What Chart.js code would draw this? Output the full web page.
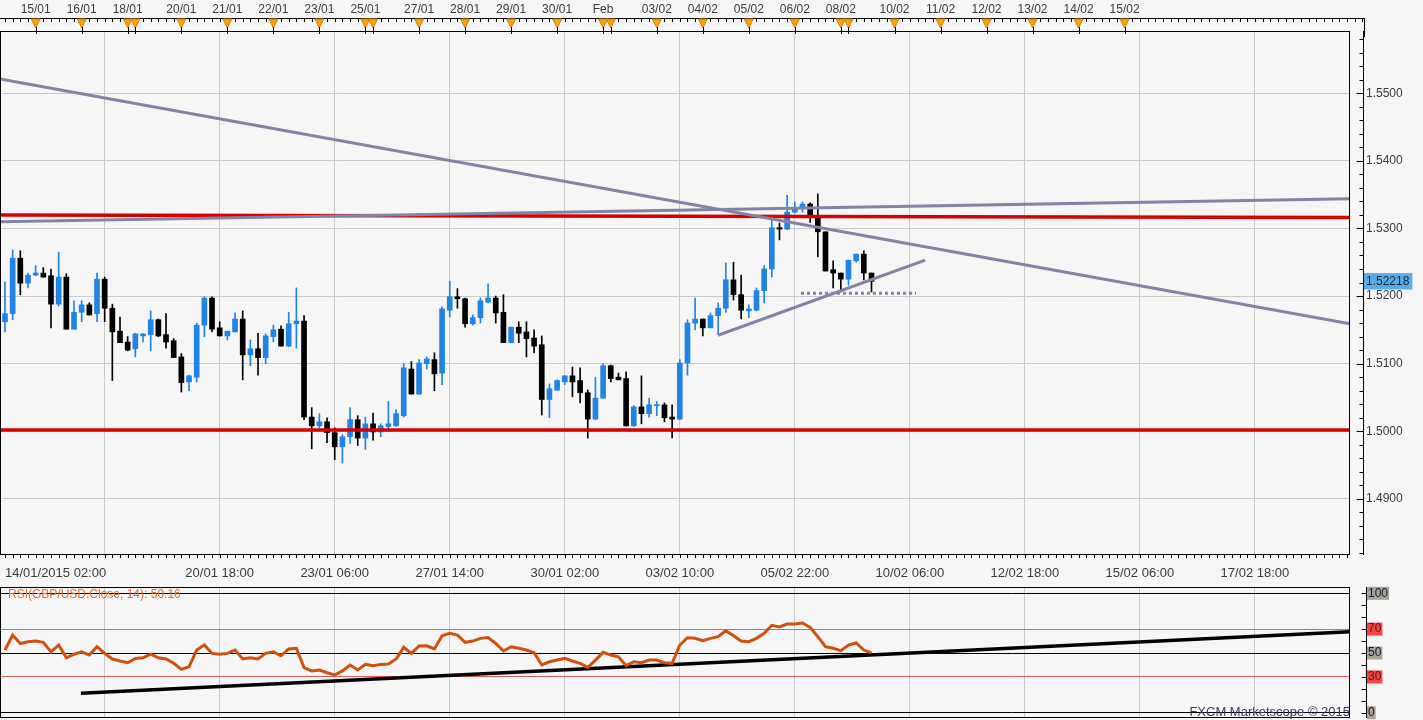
<!DOCTYPE html>
<html>
<head>
<meta charset="utf-8">
<title>GBP/USD H4</title>
<script src="https://cdn.jsdelivr.net/npm/chart.js@4.4.0/dist/chart.umd.min.js"></script>
<style>
    html, body { margin: 0; padding: 0; background: #f6f6f6; }
    #wrap { position: relative; width: 1423px; height: 720px; overflow: hidden; }
    #priceChart { position: absolute; left: 0; top: 0; }
    #rsiChart { position: absolute; left: 0; top: 585px; }
</style>
</head>
<body>
<div id="wrap">
    <canvas id="priceChart" width="1423" height="585"></canvas>
    <canvas id="rsiChart" width="1423" height="135"></canvas>
</div>
<script>
// GBP/USD 4h candles from 14/01/2015 02:00 (x = candle number)
const opens = [1.5162,1.5174,1.5256,1.5219,1.5231,1.5234,1.5230,1.5188,1.5228,1.5151,
    1.5176,1.5187,1.5174,1.5225,1.5182,1.5148,1.5132,1.5122,1.5141,1.5143,
    1.5165,1.5143,1.5134,1.5110,1.5073,1.5080,1.5157,1.5197,1.5153,1.5141,
    1.5147,1.5166,1.5113,1.5122,1.5109,1.5140,1.5151,1.5126,1.5159,1.5163,
    1.5021,1.5008,1.5014,1.4998,1.4977,1.4992,1.5017,1.4990,1.5011,1.4999,
    1.5007,1.5008,1.5023,1.5092,1.5055,1.5100,1.5106,1.5086,1.5179,1.5199,
    1.5196,1.5159,1.5168,1.5191,1.5197,1.5176,1.5131,1.5154,1.5147,1.5138,
    1.5128,1.5047,1.5061,1.5073,1.5082,1.5075,1.5057,1.5018,1.5049,1.5097,
    1.5080,1.5078,1.5008,1.5036,1.5026,1.5038,1.5039,1.5021,1.5018,1.5101,
    1.5160,1.5166,1.5153,1.5171,1.5182,1.5224,1.5202,1.5178,1.5179,1.5208,
    1.5240,1.5301,1.5299,1.5324,1.5329,1.5336,1.5315,1.5295,1.5239,1.5234,
    1.5225,1.5252,1.5262,1.5234];
const highs = [1.5221,1.5268,1.5267,1.5234,1.5245,1.5242,1.5240,1.5265,1.5233,1.5193,
    1.5193,1.5190,1.5234,1.5228,1.5188,1.5169,1.5140,1.5145,1.5144,1.5178,
    1.5166,1.5174,1.5137,1.5115,1.5083,1.5160,1.5199,1.5199,1.5162,1.5148,
    1.5175,1.5178,1.5135,1.5145,1.5144,1.5157,1.5156,1.5176,1.5212,1.5171,
    1.5035,1.5026,1.5020,1.5005,1.4995,1.5035,1.5023,1.5021,1.5027,1.5011,
    1.5044,1.5032,1.5100,1.5103,1.5106,1.5110,1.5116,1.5184,1.5222,1.5211,
    1.5197,1.5172,1.5197,1.5218,1.5200,1.5202,1.5154,1.5162,1.5162,1.5150,
    1.5141,1.5070,1.5076,1.5082,1.5095,1.5094,1.5061,1.5080,1.5100,1.5098,
    1.5086,1.5088,1.5038,1.5082,1.5049,1.5044,1.5042,1.5039,1.5106,1.5165,
    1.5197,1.5166,1.5175,1.5190,1.5249,1.5250,1.5231,1.5187,1.5212,1.5245,
    1.5315,1.5308,1.5349,1.5339,1.5339,1.5338,1.5351,1.5295,1.5252,1.5234,
    1.5253,1.5262,1.5267,1.5234];
const lows = [1.5147,1.5165,1.5202,1.5212,1.5230,1.5228,1.5153,1.5185,1.5151,1.5151,
    1.5162,1.5172,1.5162,1.5162,1.5075,1.5131,1.5119,1.5110,1.5132,1.5119,
    1.5140,1.5123,1.5109,1.5058,1.5060,1.5073,1.5140,1.5147,1.5141,1.5135,
    1.5147,1.5076,1.5097,1.5083,1.5100,1.5132,1.5126,1.5125,1.5123,1.5017,
    1.4974,1.5005,1.4983,1.4958,1.4953,1.4982,1.4979,1.4973,1.4987,1.4992,
    1.5002,1.5007,1.5021,1.5055,1.5055,1.5092,1.5060,1.5069,1.5169,1.5182,
    1.5154,1.5157,1.5160,1.5190,1.5160,1.5131,1.5131,1.5131,1.5110,1.5116,
    1.5024,1.5020,1.5060,1.5069,1.5051,1.5042,1.4990,1.5017,1.5049,1.5073,
    1.5076,1.5008,1.5007,1.5011,1.5021,1.5023,1.5014,1.4990,1.5017,1.5083,
    1.5150,1.5141,1.5153,1.5143,1.5176,1.5194,1.5166,1.5168,1.5178,1.5190,
    1.5228,1.5283,1.5298,1.5323,1.5324,1.5309,1.5258,1.5237,1.5212,1.5206,
    1.5216,1.5250,1.5224,1.5206];
const closes = [1.5174,1.5256,1.5219,1.5231,1.5234,1.5228,1.5188,1.5228,1.5151,1.5176,
    1.5187,1.5172,1.5225,1.5182,1.5147,1.5131,1.5120,1.5144,1.5144,1.5165,
    1.5141,1.5132,1.5109,1.5072,1.5082,1.5157,1.5197,1.5151,1.5141,1.5148,
    1.5166,1.5113,1.5122,1.5109,1.5141,1.5150,1.5126,1.5159,1.5163,1.5021,
    1.5008,1.5014,1.4998,1.4977,1.4992,1.5017,1.4990,1.5011,1.4999,1.5008,
    1.5011,1.5026,1.5094,1.5055,1.5101,1.5107,1.5085,1.5181,1.5199,1.5196,
    1.5159,1.5168,1.5193,1.5197,1.5175,1.5131,1.5154,1.5145,1.5137,1.5126,
    1.5047,1.5063,1.5075,1.5082,1.5073,1.5057,1.5018,1.5049,1.5097,1.5078,
    1.5076,1.5008,1.5036,1.5026,1.5039,1.5039,1.5020,1.5018,1.5101,1.5160,
    1.5166,1.5153,1.5171,1.5182,1.5224,1.5202,1.5179,1.5181,1.5208,1.5240,
    1.5301,1.5299,1.5324,1.5329,1.5336,1.5318,1.5295,1.5237,1.5234,1.5225,
    1.5253,1.5262,1.5234,1.52218];
const rsiValues = [52.5,65,58,59.5,60,59,51,56.7,46,49,
    51,48.3,55.3,49.7,45,43.3,41.9,45.5,46,49,
    46,45,41.4,36.3,38.5,52.5,56.7,49.7,49,49.7,
    52.5,45,46,45,49.7,51,47.7,53.4,54,37.7,
    35,35.8,33.5,31.6,35,40,35.8,40.5,39.4,40.5,
    40.8,45,54.8,49.7,55.9,56.1,53.4,64.5,66.5,65,
    59,60,62.3,63,58,51.7,55.3,54,52.5,50.3,
    40,42.7,44.1,45.5,43.3,41.4,38,44.1,50.6,48.3,
    46.9,39.4,42.7,41.9,44.1,44.1,41.9,41.4,56.7,62.8,
    62.3,60.3,62.3,63.7,68.7,64.5,60,59.5,62.3,66.5,
    73.2,71.8,74.3,74.3,75.1,71.5,63.7,55.3,54,52,
    56.7,58.4,52.5,50.16];
const lastPrice = 1.52218;

// axis ticks
const priceTicks = [1.49, 1.50, 1.51, 1.52, 1.53, 1.54, 1.55];
const rsiTicks = [0, 30, 50, 70, 100];
const timeTicks = [0, 13, 28, 43, 58, 73, 88, 103, 118, 133, 148, 163, 175.4];
const timeLabels = ['14/01/2015 02:00', '', '20/01 18:00', '23/01 06:00', '27/01 14:00', '30/01 02:00',
    '03/02 10:00', '05/02 22:00', '10/02 06:00', '12/02 18:00', '15/02 06:00', '17/02 18:00', ''];
const dayTicks = [4, 10, 16, 17, 23, 29, 35, 41, 47, 48, 54, 60, 66, 72, 78, 79, 85, 91, 97, 103, 109, 110,
    116, 122, 128, 134, 140, 146];
const dayLabels = ['15/01', '16/01', '18/01', '', '20/01', '21/01', '22/01', '23/01', '25/01', '', '27/01', '28/01',
    '29/01', '30/01', 'Feb', '', '03/02', '04/02', '05/02', '06/02', '08/02', '', '10/02', '11/02', '12/02',
    '13/02', '14/02', '15/02'];

// hand drawn lines [candle, value]
const downTrend = [[-0.65, 1.5521], [175.4, 1.5159]];
const channelLine = [[-0.65, 1.5310], [175.4, 1.5344]];
const resistance = [[-0.65, 1.5320], [175.4, 1.5316]];
const support = [[-0.65, 1.5002], [175.4, 1.5002]];
const risingTrend = [[93, 1.5142], [120, 1.5253]];
const dottedLevel = [[103.8, 1.5204], [118.8, 1.5204]];
const rsiTrend = [[9.9, 16.3], [175.4, 67.8]];

const xMin = -0.65;
const xMax = 175.4;
const font = "'Liberation Sans', Arial, sans-serif";
const upColor = '#2084e4';
const downColor = '#000000';
const lineGray = '#8583a3';
const lineRed = '#d70000';
const gridGray = '#c9c9c9';
const clear = 'rgba(0,0,0,0)';

Chart.defaults.font.family = font;
Chart.defaults.font.size = 12;
Chart.defaults.color = '#333';

const candleColors = closes.map((c, i) => c > opens[i] ? upColor : downColor);
const toPoints = pts => pts.map(p => ({ x: p[0], y: p[1] }));

const drawnLine = (pts, color, width, dash) => ({
    type: 'line',
    xAxisID: 'x',
    yAxisID: 'y',
    data: toPoints(pts),
    borderColor: color,
    borderWidth: width,
    borderDash: dash || [],
    pointRadius: 0,
    tension: 0,
    fill: false,
    order: 0
});

const priceFrame = {
    id: 'priceFrame',
    afterDraw(chart) {
        const { ctx, chartArea: a } = chart;
        const xs = chart.scales.x;
        const ys = chart.scales.y;
        ctx.save();
        ctx.strokeStyle = '#000';
        ctx.lineWidth = 1;
        ctx.strokeRect(a.left + 0.5, a.top + 0.5, a.width - 1, a.height - 1);

        // rulers: top (per candle), bottom, right (per 20 pips)
        const rulerEnd = a.right + 14;
        ctx.beginPath();
        ctx.moveTo(0, 18.5);
        ctx.lineTo(rulerEnd, 18.5);
        ctx.moveTo(rulerEnd + 0.5, 18);
        ctx.lineTo(rulerEnd + 0.5, 37);
        for (let i = 0; ; i++) {
            const px = Math.round(xs.getPixelForValue(i)) + 0.5;
            if (px > rulerEnd) break;
            ctx.moveTo(px, 18);
            ctx.lineTo(px, 22);
            if (px < a.right) {
                ctx.moveTo(px, a.bottom);
                ctx.lineTo(px, a.bottom + 3);
            }
        }
        const rx = a.right + 13.5;
        ctx.moveTo(rx, a.top);
        ctx.lineTo(rx, a.bottom);
        for (let k = Math.ceil(ys.min / 0.002); k * 0.002 <= ys.max; k++) {
            const py = Math.round(ys.getPixelForValue(k * 0.002)) + 0.5;
            ctx.moveTo(rx - (k % 5 === 0 ? 7 : 4), py);
            ctx.lineTo(rx, py);
        }
        ctx.stroke();

        // day markers
        dayTicks.forEach(d => {
            const px = xs.getPixelForValue(d);
            ctx.fillStyle = '#f2a21c';
            ctx.strokeStyle = '#d98400';
            ctx.beginPath();
            ctx.moveTo(px - 4.5, 19);
            ctx.lineTo(px + 4.5, 19);
            ctx.lineTo(px, 28);
            ctx.closePath();
            ctx.fill();
            ctx.stroke();
            ctx.strokeStyle = '#000';
            ctx.beginPath();
            ctx.moveTo(Math.round(px) + 0.5, 27);
            ctx.lineTo(Math.round(px) + 0.5, a.top + 3);
            ctx.stroke();
        });
        ctx.restore();
    }
};

new Chart(document.getElementById('priceChart'), {
    type: 'line',
    data: {
        datasets: [
            drawnLine(downTrend, lineGray, 3),
            drawnLine(channelLine, lineGray, 3),
            drawnLine(resistance, lineRed, 3.5),
            drawnLine(support, lineRed, 3.5),
            drawnLine(risingTrend, lineGray, 3),
            drawnLine(dottedLevel, lineGray, 3, [3, 3]),
            {
                type: 'bar',
                xAxisID: 'x',
                yAxisID: 'y',
                data: opens.map((o, i) => ({ x: i, y: [o, closes[i]] })),
                backgroundColor: candleColors,
                barThickness: 5,
                minBarLength: 1,
                grouped: false,
                borderWidth: 0,
                order: 1
            },
            {
                type: 'bar',
                xAxisID: 'x',
                yAxisID: 'y',
                data: lows.map((l, i) => ({ x: i, y: [l, highs[i]] })),
                backgroundColor: candleColors,
                barThickness: 1,
                grouped: false,
                borderWidth: 0,
                order: 2
            }
        ]
    },
    options: {
        responsive: false,
        animation: false,
        devicePixelRatio: 1,
        layout: { padding: 0 },
        plugins: { legend: { display: false }, tooltip: { enabled: false } },
        scales: {
            x: {
                type: 'linear',
                position: 'bottom',
                min: xMin,
                max: xMax,
                offset: false,
                afterFit: s => { s.height = 30; },
                afterBuildTicks: s => { s.ticks = timeTicks.map(v => ({ value: v })); },
                grid: {
                    offset: false,
                    drawTicks: true,
                    tickLength: 11,
                    tickColor: clear,
                    color: c => (c.tick && (c.tick.value === 0 || c.tick.value === xMax)) ? clear : gridGray
                },
                border: { display: false },
                ticks: {
                    autoSkip: false,
                    maxRotation: 0,
                    align: 'inner',
                    padding: 0,
                    font: { size: 13 },
                    color: '#3a3a3a',
                    callback: (v, i) => timeLabels[i]
                }
            },
            xTop: {
                type: 'linear',
                position: 'top',
                min: xMin,
                max: xMax,
                offset: false,
                afterFit: s => { s.height = 31; },
                afterBuildTicks: s => { s.ticks = dayTicks.map(v => ({ value: v })); },
                grid: { display: false, drawOnChartArea: false, drawTicks: false, offset: false },
                border: { display: false },
                ticks: {
                    autoSkip: false,
                    maxRotation: 0,
                    padding: 14,
                    color: '#3a3a3a',
                    callback: (v, i) => dayLabels[i]
                }
            },
            y: {
                position: 'right',
                min: 1.4817,
                max: 1.5592,
                afterFit: s => { s.width = 73; },
                afterBuildTicks: s => {
                    s.ticks = priceTicks.concat([lastPrice]).sort((p, q) => p - q).map(v => ({ value: v }));
                },
                grid: {
                    drawTicks: true,
                    tickLength: 16,
                    tickColor: clear,
                    color: c => (c.tick && c.tick.value === lastPrice) ? clear : gridGray
                },
                border: { display: false },
                ticks: {
                    autoSkip: false,
                    padding: 0,
                    color: c => c.tick.value === lastPrice ? '#10253a' : '#3a3a3a',
                    showLabelBackdrop: true,
                    backdropColor: c => c.tick.value === lastPrice ? '#5aace8' : clear,
                    backdropPadding: { left: 2, right: 3, top: 1, bottom: 1 },
                    callback: v => v === lastPrice ? v.toFixed(5) : v.toFixed(4)
                }
            }
        }
    },
    plugins: [priceFrame]
});

const rsiFrame = {
    id: 'rsiFrame',
    afterDraw(chart) {
        const { ctx, chartArea: a } = chart;
        const ys = chart.scales.y;
        ctx.save();
        ctx.strokeStyle = '#000';
        ctx.lineWidth = 1;
        ctx.strokeRect(a.left + 0.5, a.top + 0.5, a.width - 1, a.height - 1);
        const rx = a.right + 16.5;
        ctx.beginPath();
        ctx.moveTo(rx, a.top);
        ctx.lineTo(rx, a.bottom);
        for (let v = 0; v <= 100; v += 10) {
            const py = Math.round(ys.getPixelForValue(v)) + 0.5;
            ctx.moveTo(rx - 5, py);
            ctx.lineTo(rx, py);
        }
        ctx.stroke();

        ctx.font = '12px ' + font;
        ctx.textBaseline = 'middle';
        ctx.fillStyle = '#e0712f';
        ctx.fillText('RSI(GBP/USD.Close, 14): ' + rsiValues[rsiValues.length - 1].toFixed(2), 8, ys.getPixelForValue(100) + 1);
        ctx.font = '13px ' + font;
        ctx.textAlign = 'right';
        ctx.fillStyle = '#3b3b5e';
        ctx.fillText('FXCM Marketscope \u00a9 2015', a.right, a.bottom - 6);
        ctx.restore();
    }
};

new Chart(document.getElementById('rsiChart'), {
    type: 'line',
    data: {
        datasets: [
            {
                data: toPoints(rsiTrend),
                borderColor: '#000',
                borderWidth: 3.5,
                pointRadius: 0,
                tension: 0,
                order: 1
            },
            {
                data: rsiValues.map((v, i) => ({ x: i, y: v })),
                borderColor: '#d0500f',
                borderWidth: 3,
                pointRadius: 0,
                tension: 0,
                order: 0
            }
        ]
    },
    options: {
        responsive: false,
        animation: false,
        devicePixelRatio: 1,
        layout: { padding: { top: 2 } },
        plugins: { legend: { display: false }, tooltip: { enabled: false } },
        scales: {
            x: {
                type: 'linear',
                min: xMin,
                max: xMax,
                offset: false,
                afterFit: s => { s.height = 2; },
                afterBuildTicks: s => {
                    s.ticks = timeTicks.filter(v => v > 0 && v < xMax).map(v => ({ value: v }));
                },
                grid: { color: gridGray, drawTicks: false, offset: false },
                border: { display: false },
                ticks: { display: false }
            },
            y: {
                position: 'right',
                min: -4.4,
                max: 105.3,
                afterFit: s => { s.width = 73; },
                afterBuildTicks: s => { s.ticks = rsiTicks.map(v => ({ value: v })); },
                grid: {
                    drawTicks: true,
                    tickLength: 18,
                    tickColor: clear,
                    color: c => (c.tick && (c.tick.value === 30 || c.tick.value === 70)) ? '#e06060' : '#000'
                },
                border: { display: false },
                ticks: {
                    autoSkip: false,
                    padding: 0,
                    font: { size: 12, lineHeight: 0.25 },
                    color: c => (c.tick.value === 30 || c.tick.value === 70) ? '#7a0a0a' : '#1a1a1a',
                    showLabelBackdrop: true,
                    backdropColor: c => (c.tick.value === 30 || c.tick.value === 70) ? '#f04646' : '#a9a39d',
                    backdropPadding: { left: 1, right: 1, top: 5, bottom: 5 }
                }
            }
        }
    },
    plugins: [rsiFrame]
});
</script>
</body>
</html>
